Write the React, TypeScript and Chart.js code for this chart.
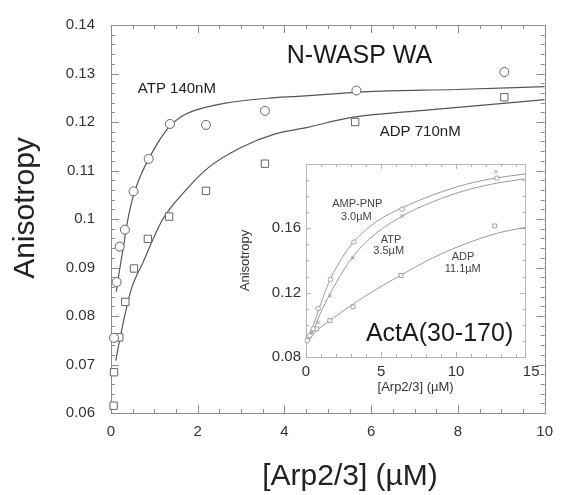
import React, { useEffect, useRef } from 'react';
import { Chart, registerables } from 'chart.js';

Chart.register(...registerables);

const FONT = '"Liberation Sans", Arial, Helvetica, sans-serif';

// ---------- Main plot (N-WASP WA) ----------
const mainXTicks = [0, 2, 4, 6, 8, 10];
const mainYTicks = [0.06, 0.07, 0.08, 0.09, 0.1, 0.11, 0.12, 0.13, 0.14];

const atpX = [0.07, 0.13, 0.2, 0.32, 0.52, 0.87, 1.36, 2.19, 3.55, 5.66, 9.07];
const atpY = [0.0755, 0.087, 0.0943, 0.0978, 0.1057, 0.1124, 0.1196, 0.1194, 0.1223, 0.1265, 0.1303];

const adpX = [0.06, 0.07, 0.19, 0.33, 0.53, 0.85, 1.34, 2.19, 3.55, 5.63, 9.07];
const adpY = [0.0615, 0.0684, 0.0756, 0.0829, 0.0898, 0.0959, 0.1005, 0.1058, 0.1114, 0.12, 0.1251];

const atpFitX = [0.12, 0.18, 0.24, 0.3, 0.36, 0.45, 0.55, 0.7, 0.87, 1.1, 1.36, 1.6, 1.87, 2.64, 3.62, 4.31, 5.29, 6.05, 7.95, 10];
const atpFitY = [0.085, 0.0885, 0.0918, 0.095, 0.0985, 0.1025, 0.1058, 0.1093, 0.1124, 0.116, 0.1192, 0.121, 0.1222, 0.1239, 0.1249, 0.1253, 0.1259, 0.1263, 0.1267, 0.1273];

const adpFitX = [0.11, 0.21, 0.32, 0.47, 0.74, 1.19, 1.72, 2.26, 3.01, 3.77, 4.53, 5.52, 7.34, 10];
const adpFitY = [0.0708, 0.0755, 0.0802, 0.0856, 0.0911, 0.0999, 0.1059, 0.1107, 0.1148, 0.1175, 0.1189, 0.1209, 0.1225, 0.1246];

// ---------- Inset (ActA(30-170)) ----------
const insetXTicks = [0, 5, 10, 15];
const insetYTicks = [0.08, 0.12, 0.16, 0.2];

const ampX = [0.09, 0.26, 0.48, 0.81, 1.63, 3.19, 6.4, 12.72];
const ampY = [0.0903, 0.0934, 0.0975, 0.1102, 0.1282, 0.1514, 0.1719, 0.1912];

const insAtpX = [0.15, 0.38, 0.81, 1.59, 3.13, 6.4, 12.65];
const insAtpY = [0.0913, 0.0954, 0.1015, 0.118, 0.1415, 0.1676, 0.1953];

const insAdpX = [0.15, 0.71, 1.59, 3.13, 6.33, 12.57];
const insAdpY = [0.0923, 0.0975, 0.1026, 0.1112, 0.1307, 0.1615];

const ampFitX = [0.05, 0.48, 0.93, 1.63, 2.47, 3.19, 4.68, 6.4, 8.42, 10.63, 12.72, 14.6];
const ampFitY = [0.0903, 0.0995, 0.1118, 0.1286, 0.1426, 0.1518, 0.1641, 0.1727, 0.1806, 0.1873, 0.1914, 0.1938];

const insAtpFitX = [0.05, 0.48, 0.93, 1.59, 2.47, 3.13, 4.68, 6.4, 8.42, 10.63, 12.72, 14.6];
const insAtpFitY = [0.0892, 0.0964, 0.1067, 0.119, 0.1334, 0.1426, 0.1569, 0.1676, 0.1764, 0.1836, 0.1881, 0.1908];

const insAdpFitX = [0.05, 0.71, 1.59, 3.13, 4.68, 6.4, 8.42, 10.63, 12.72, 14.6];
const insAdpFitY = [0.0892, 0.0964, 0.1026, 0.1129, 0.1221, 0.1313, 0.1415, 0.1504, 0.1569, 0.1606];

const pts = (xs: number[], ys: number[]) => xs.map((x, i) => ({ x, y: ys[i] }));

// Frame with inward ticks on all four sides
const frameTicks = {
  id: 'frameTicks',
  beforeDatasetsDraw(chart: any, _args: any, opts: any) {
    const { ctx, chartArea: a, scales } = chart;
    const xs = scales.x;
    const ys = scales.y;
    ctx.save();
    ctx.strokeStyle = opts.color;
    ctx.lineWidth = 1;
    ctx.strokeRect(Math.round(a.left) + 0.5, Math.round(a.top) + 0.5, Math.round(a.right - a.left), Math.round(a.bottom - a.top));
    const isMajor = (v: number, step: number) => Math.abs(v / step - Math.round(v / step)) < 1e-6;
    const line = (x1: number, y1: number, x2: number, y2: number) => {
      ctx.beginPath();
      ctx.moveTo(x1, y1);
      ctx.lineTo(x2, y2);
      ctx.stroke();
    };
    const nx = Math.floor((xs.max - xs.min) / opts.xMinor + 1e-6);
    for (let i = 0; i <= nx; i++) {
      const v = xs.min + i * opts.xMinor;
      const len = isMajor(v, opts.xMajor) ? opts.majorLen : opts.minorLen;
      const px = Math.round(xs.getPixelForValue(v)) + 0.5;
      line(px, a.bottom, px, a.bottom - len);
      line(px, a.top, px, a.top + len);
    }
    const ny = Math.floor((ys.max - ys.min) / opts.yMinor + 1e-6);
    for (let i = 0; i <= ny; i++) {
      const v = ys.min + i * opts.yMinor;
      const len = isMajor(v, opts.yMajor) ? opts.majorLen : opts.minorLen;
      const py = Math.round(ys.getPixelForValue(v)) + 0.5;
      line(a.left, py, a.left + len, py);
      line(a.right, py, a.right - len, py);
    }
    ctx.restore();
  },
};

// Free text labels (in data coordinates or canvas pixels)
const textLabels = {
  id: 'textLabels',
  afterDraw(chart: any, _args: any, opts: any) {
    const { ctx, scales } = chart;
    ctx.save();
    for (const it of opts.items || []) {
      const x = it.coord === 'px' ? it.x : scales.x.getPixelForValue(it.x);
      const y = it.coord === 'px' ? it.y : scales.y.getPixelForValue(it.y);
      ctx.font = `${it.size}px ${FONT}`;
      ctx.fillStyle = it.color;
      ctx.textAlign = 'center';
      ctx.textBaseline = 'middle';
      ctx.translate(x, y);
      if (it.rotate) ctx.rotate(it.rotate);
      ctx.fillText(it.text, 0, 0);
      ctx.setTransform(1, 0, 0, 1, 0, 0);
    }
    ctx.restore();
  },
};

const fmt2 = (v: any) => String(+Number(v).toFixed(2));

function MainChart() {
  const ref = useRef<HTMLCanvasElement>(null);
  useEffect(() => {
    const marker = '#666';
    const lineC = '#555';
    const chart = new Chart(ref.current as HTMLCanvasElement, {
      type: 'scatter',
      data: {
        datasets: [
          {
            label: 'ATP 140nM',
            data: pts(atpX, atpY),
            pointStyle: 'circle',
            pointRadius: 4.5,
            pointBorderWidth: 1,
            pointBorderColor: marker,
            pointBackgroundColor: '#fff',
            showLine: false,
            clip: false,
          } as any,
          {
            label: 'ADP 710nM',
            data: pts(adpX, adpY),
            pointStyle: 'rect',
            pointRadius: 5.2,
            pointBorderWidth: 1,
            pointBorderColor: marker,
            pointBackgroundColor: '#fff',
            showLine: false,
            clip: false,
          } as any,
          {
            label: 'ATP fit',
            data: pts(atpFitX, atpFitY),
            showLine: true,
            pointRadius: 0,
            borderColor: lineC,
            borderWidth: 1.2,
            cubicInterpolationMode: 'monotone',
          } as any,
          {
            label: 'ADP fit',
            data: pts(adpFitX, adpFitY),
            showLine: true,
            pointRadius: 0,
            borderColor: lineC,
            borderWidth: 1.2,
            cubicInterpolationMode: 'monotone',
          } as any,
        ],
      },
      options: {
        responsive: false,
        animation: false,
        devicePixelRatio: 1,
        layout: { padding: { left: 0, right: 13, top: 19, bottom: 0 } },
        plugins: {
          legend: { display: false },
          tooltip: { enabled: false },
          frameTicks: { color: '#8c8c8c', xMinor: 0.5, xMajor: 2, yMinor: 0.002, yMajor: 0.01, majorLen: 8, minorLen: 4 },
          textLabels: {
            items: [
              { text: 'N-WASP WA', x: 5.73, y: 0.1336, size: 25, color: '#1a1a1a' },
              { text: 'ATP 140nM', x: 1.52, y: 0.1268, size: 15, color: '#222' },
              { text: 'ADP 710nM', x: 7.13, y: 0.118, size: 15, color: '#222' },
              { text: 'Anisotropy', x: 26, y: 208, coord: 'px', size: 30, color: '#222', rotate: -Math.PI / 2 },
              { text: '[Arp2/3] (µM)', x: 350, y: 477, coord: 'px', size: 30, color: '#222' },
            ],
          },
        } as any,
        scales: {
          x: {
            type: 'linear',
            min: 0,
            max: 10,
            afterBuildTicks: (s: any) => { s.ticks = mainXTicks.map((v) => ({ value: v })); },
            afterFit: (s: any) => { s.height = 82; },
            ticks: { padding: 10, color: '#333', font: { size: 15, family: FONT }, maxRotation: 0 },
            grid: { display: false, drawTicks: false },
            border: { display: false },
          },
          y: {
            type: 'linear',
            min: 0.06,
            max: 0.14,
            afterBuildTicks: (s: any) => { s.ticks = mainYTicks.map((v) => ({ value: v })); },
            afterFit: (s: any) => { s.width = 111; },
            ticks: { padding: 16, color: '#333', font: { size: 15, family: FONT }, callback: fmt2 },
            grid: { display: false, drawTicks: false },
            border: { display: false },
          },
        },
      } as any,
      plugins: [frameTicks, textLabels],
    });
    return () => chart.destroy();
  }, []);
  return (
    <canvas
      ref={ref}
      width={563}
      height={495}
      style={{ position: 'absolute', left: 0, top: 0, width: 563, height: 495 }}
    />
  );
}

function InsetChart() {
  const ref = useRef<HTMLCanvasElement>(null);
  useEffect(() => {
    const c = '#8a8a8a';
    const lc = '#9a9a9a';
    const chart = new Chart(ref.current as HTMLCanvasElement, {
      type: 'scatter',
      data: {
        datasets: [
          {
            label: 'AMP-PNP 3.0µM',
            data: pts(ampX, ampY),
            pointStyle: 'circle',
            pointRadius: 2.3,
            pointBorderWidth: 0.8,
            pointBorderColor: c,
            pointBackgroundColor: '#fff',
            clip: false,
          } as any,
          {
            label: 'ATP 3.5µM',
            data: pts(insAtpX, insAtpY),
            pointStyle: 'crossRot',
            pointRadius: 2.5,
            pointBorderWidth: 0.8,
            pointBorderColor: c,
            clip: false,
          } as any,
          {
            label: 'ADP 11.1µM',
            data: pts(insAdpX, insAdpY),
            pointStyle: 'rect',
            pointRadius: 2.8,
            pointBorderWidth: 0.8,
            pointBorderColor: c,
            pointBackgroundColor: '#fff',
            clip: false,
          } as any,
          {
            label: 'AMP-PNP fit',
            data: pts(ampFitX, ampFitY),
            showLine: true,
            pointRadius: 0,
            borderColor: lc,
            borderWidth: 1,
            cubicInterpolationMode: 'monotone',
          } as any,
          {
            label: 'ATP fit',
            data: pts(insAtpFitX, insAtpFitY),
            showLine: true,
            pointRadius: 0,
            borderColor: lc,
            borderWidth: 1,
            cubicInterpolationMode: 'monotone',
          } as any,
          {
            label: 'ADP fit',
            data: pts(insAdpFitX, insAdpFitY),
            showLine: true,
            pointRadius: 0,
            borderColor: lc,
            borderWidth: 1,
            cubicInterpolationMode: 'monotone',
          } as any,
        ],
      },
      options: {
        responsive: false,
        animation: false,
        devicePixelRatio: 1,
        layout: { padding: { left: 0, right: 18, top: 12, bottom: 0 } },
        plugins: {
          legend: { display: false },
          tooltip: { enabled: false },
          frameTicks: { color: '#b5b5b5', xMinor: 1, xMajor: 5, yMinor: 0.01, yMajor: 0.04, majorLen: 5, minorLen: 3 },
          textLabels: {
            items: [
              { text: 'AMP-PNP', x: 3.41, y: 0.1749, size: 11, color: '#444' },
              { text: '3.0µM', x: 3.35, y: 0.1669, size: 11, color: '#444' },
              { text: 'ATP', x: 5.67, y: 0.1527, size: 11, color: '#444' },
              { text: '3.5µM', x: 5.51, y: 0.146, size: 11, color: '#444' },
              { text: 'ADP', x: 10.46, y: 0.1421, size: 11, color: '#444' },
              { text: '11.1µM', x: 10.44, y: 0.1346, size: 11, color: '#444' },
              { text: 'ActA(30-170)', x: 8.9, y: 0.094, size: 25, color: '#1a1a1a' },
            ],
          },
        } as any,
        scales: {
          x: {
            type: 'linear',
            min: 0,
            max: 14.6,
            afterBuildTicks: (s: any) => { s.ticks = insetXTicks.map((v) => ({ value: v })); },
            afterFit: (s: any) => { s.height = 43; },
            ticks: { padding: 6, color: '#333', font: { size: 15, family: FONT }, maxRotation: 0 },
            grid: { display: false, drawTicks: false },
            border: { display: false },
            title: { display: true, text: '[Arp2/3] (µM)', color: '#333', font: { size: 13, family: FONT }, padding: { top: 0, bottom: 5 } },
          },
          y: {
            type: 'linear',
            min: 0.08,
            max: 0.2,
            afterBuildTicks: (s: any) => { s.ticks = insetYTicks.map((v) => ({ value: v })); },
            afterFit: (s: any) => { s.width = 71; },
            ticks: {
              padding: 5,
              color: '#333',
              font: { size: 15, family: FONT },
              callback: (v: any) => (Math.abs(Number(v) - 0.2) < 1e-9 ? '' : Number(v).toFixed(2)),
            },
            grid: { display: false, drawTicks: false },
            border: { display: false },
            title: { display: true, text: 'Anisotropy', color: '#333', font: { size: 13, family: FONT }, padding: { top: 3, bottom: 0 } },
          },
        },
      } as any,
      plugins: [frameTicks, textLabels],
    });
    return () => chart.destroy();
  }, []);
  return (
    <canvas
      ref={ref}
      width={310}
      height={250}
      style={{ position: 'absolute', left: 235, top: 150, width: 310, height: 250 }}
    />
  );
}

export default function App() {
  return (
    <div style={{ position: 'fixed', left: 0, top: 0, width: 563, height: 495, background: '#fff', overflow: 'hidden' }}>
      <MainChart />
      <InsetChart />
    </div>
  );
}
